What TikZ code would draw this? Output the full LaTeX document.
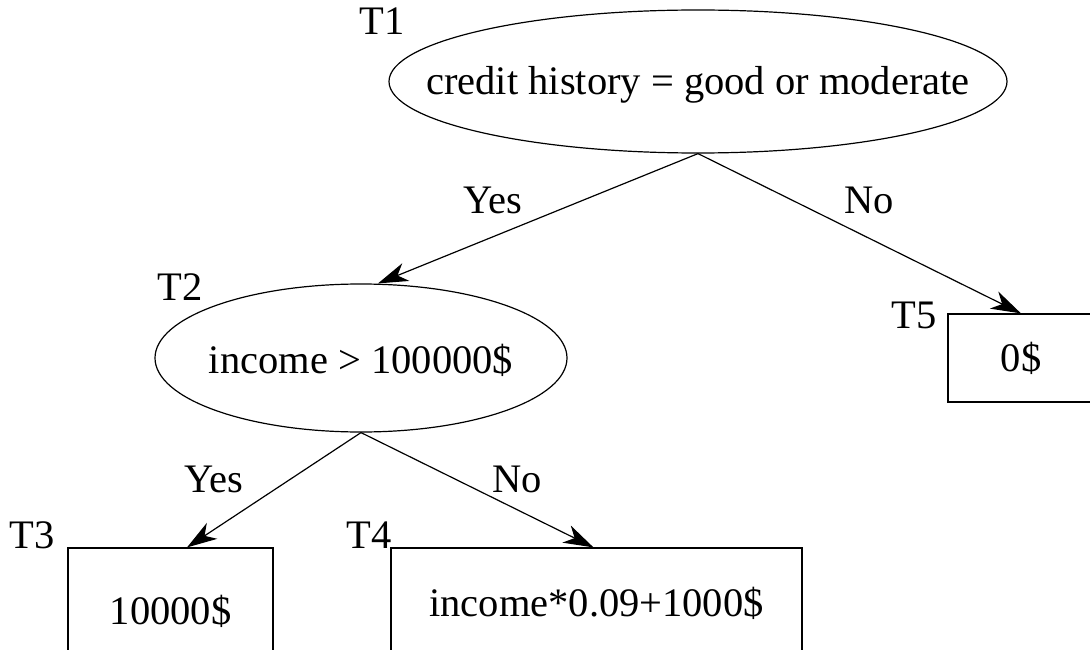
\documentclass[tikz,border=0pt]{standalone}
\usepackage{fontspec}
\setmainfont{Liberation Serif}
\usetikzlibrary{shapes.geometric,arrows.meta,calc}
\begin{document}
\begin{tikzpicture}[x=1pt,y=-1pt,
  every node/.style={font=\fontsize{40.5}{48}\selectfont},
  every label/.style={inner sep=0pt},
  cond/.style={draw,ellipse,line width=1.2pt,inner sep=0pt},
  leaf/.style={draw,rectangle,line width=1.2pt,inner sep=0pt},
  tag/.style={anchor=base,inner sep=0pt},
  edge/.style={line width=1.2pt,-{Stealth[length=30pt,width=19pt,inset=9pt]}}]
\useasboundingbox (0,0) rectangle (1090,650);
\clip (0,0) rectangle (1090,650);
% nodes
\node[cond,minimum width=618pt,minimum height=143pt,label={[yshift=-3pt]center:{credit history = good or moderate}}] (T1) at (698,81.5) {};
\node[cond,minimum width=412pt,minimum height=148pt,label={[yshift=-2pt]center:{income > 100000\$}}] (T2) at (361,358) {};
\node[leaf,minimum width=205pt,minimum height=126pt] (T3) at (170.5,611) {10000\$};
\node[leaf,minimum width=411pt,minimum height=110pt] (T4) at (596.5,603) {income*0.09+1000\$};
\node[leaf,minimum width=146pt,minimum height=88pt] (T5) at (1021,358) {0\$};
% node tags
\node[tag] (L1) at (382,35) {T1};
\node[tag] (L2) at (180,300) {T2};
\node[tag] (L3) at (32,548) {T3};
\node[tag] (L4) at (369,548) {T4};
\node[tag] (L5) at (914,328) {T5};
% connectors
\coordinate (T2in) at ($(T2.north)+(17,0)$);
\coordinate (T3in) at ($(T3.north)+(16.5,0)$);
\coordinate (T4in) at ($(T4.north)+(-3,0)$);
\draw[edge] (T1.south) -- (T2in);
\draw[edge] (T1.south) -- (T5.north);
\draw[edge] (T2.south) -- (T3in);
\draw[edge] (T2.south) -- (T4in);
% edge labels
\node[tag] (y1) at (493,213) {Yes};
\node[tag] (n1) at (869,213) {No};
\node[tag] (y2) at (214,492) {Yes};
\node[tag] (n2) at (517,492) {No};
\end{tikzpicture}
\end{document}
